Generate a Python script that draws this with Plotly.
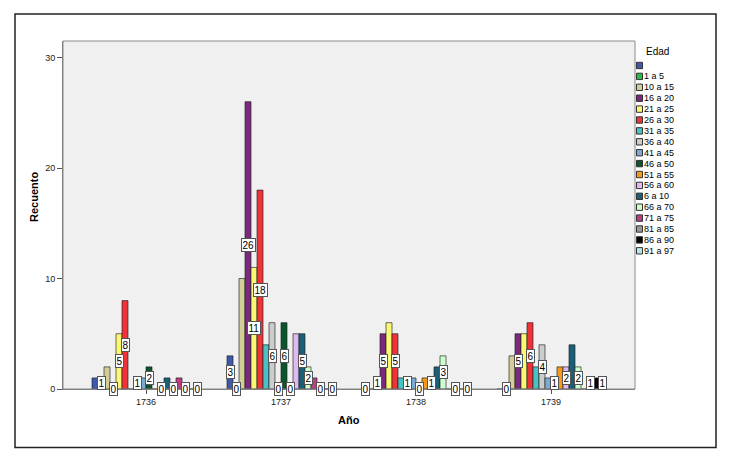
import plotly.graph_objects as go

years = ["1736", "1737", "1738", "1739"]
age_groups = ["", "1 a 5", "10 a 15", "16 a 20", "21 a 25", "26 a 30", "31 a 35",
              "36 a 40", "41 a 45", "46 a 50", "51 a 55", "56 a 60", "6 a 10",
              "66 a 70", "71 a 75", "81 a 85", "86 a 90", "91 a 97"]
counts_1736 = [1, 1, 2, 0, 5, 8, 0, 1, 1, 2, 0, 0, 1, 0, 1, 0, 0, 0]
counts_1737 = [3, 0, 10, 26, 11, 18, 4, 6, 0, 6, 0, 5, 5, 2, 1, 0, 0, 0]
counts_1738 = [0, 0, 1, 5, 6, 5, 1, 1, 1, 0, 1, 1, 2, 3, 0, 0, 0, 0]
counts_1739 = [0, 0, 3, 5, 5, 6, 2, 4, 1, 1, 2, 2, 4, 2, 0, 1, 1, 1]
# which age groups carry a visible value label (as in the original)
labelled_1736 = ["1 a 5", "16 a 20", "21 a 25", "26 a 30", "36 a 40", "46 a 50",
                 "56 a 60", "66 a 70", "81 a 85", "91 a 97"]
labelled_1737 = ["", "1 a 5", "16 a 20", "21 a 25", "26 a 30", "36 a 40", "41 a 45",
                 "46 a 50", "51 a 55", "6 a 10", "66 a 70", "81 a 85", "91 a 97"]
labelled_1738 = ["", "10 a 15", "16 a 20", "26 a 30", "36 a 40", "46 a 50",
                 "56 a 60", "66 a 70", "81 a 85", "91 a 97"]
labelled_1739 = ["1 a 5", "16 a 20", "26 a 30", "36 a 40", "46 a 50", "56 a 60",
                 "66 a 70", "81 a 85", "91 a 97"]

colors = ["#3E58AC", "#2EB848", "#D3CE97", "#7C287D", "#FBF873", "#EF3338",
          "#48C2C5", "#CCCCCC", "#7AAAD5", "#0A562C", "#F8981D", "#DDBAF1",
          "#1A5F76", "#CCFFCC", "#BB3F7F", "#999999", "#000000", "#B6E7E8"]

all_counts = [counts_1736, counts_1737, counts_1738, counts_1739]
all_labelled = [labelled_1736, labelled_1737, labelled_1738, labelled_1739]

FONT = "Arial, Liberation Sans, sans-serif"
W, H = 731, 464
L, R, T, B = 63, 635, 41, 389  # plot area in pixels


def px(xp):
    return (xp - L) / (R - L)


def py(yp):
    return (B - yp) / (B - T)


fig = go.Figure()
n = len(age_groups)
for i, (cat, col) in enumerate(zip(age_groups, colors)):
    fig.add_trace(go.Bar(
        x=years, y=[c[i] for c in all_counts], name=cat if cat else " ",
        marker=dict(color=col, line=dict(color="rgba(30,30,30,0.65)", width=1)),
        showlegend=False))

annotations = []
bargap = 0.2
bw = (1 - bargap) / n
for g, (cnts, labs) in enumerate(zip(all_counts, all_labelled)):
    for i, cat in enumerate(age_groups):
        if cat in labs:
            v = cnts[i]
            annotations.append(dict(
                x=g - (1 - bargap) / 2 + (i + 0.5) * bw, y=v / 2, xref="x", yref="y",
                xanchor="center", yanchor="middle",
                text=str(v), showarrow=False, bgcolor="white",
                bordercolor="#555555", borderwidth=1, borderpad=0.5,
                font=dict(family=FONT, size=10, color="black")))

# axis titles
annotations.append(dict(x=px(34), y=py(197), xref="paper", yref="paper", text="<b>Recuento</b>",
                        xanchor="center", yanchor="middle",
                        textangle=-90, showarrow=False, font=dict(family=FONT, size=11, color="black")))
annotations.append(dict(x=px(349), y=py(420), xref="paper", yref="paper", text="<b>Año</b>",
                        xanchor="center", yanchor="middle",
                        showarrow=False, font=dict(family=FONT, size=11, color="black")))

# manual legend
annotations.append(dict(x=px(643.5), y=py(51.5), xref="paper", yref="paper", text="Edad",
                        xanchor="left", yanchor="middle", showarrow=False,
                        font=dict(family=FONT, size=10, color="black")))
shapes = []
for k, (cat, col) in enumerate(zip(age_groups, colors)):
    yc = 65.5 + 10.9 * k
    shapes.append(dict(type="rect", xref="paper", yref="paper",
                       x0=px(636.5), x1=px(642.5), y0=py(yc + 3.2), y1=py(yc - 3.2),
                       fillcolor=col, line=dict(color="#333333", width=1)))
    if cat:
        annotations.append(dict(x=px(642), y=py(yc), xref="paper", yref="paper", text=cat,
                                xanchor="left", yanchor="middle", showarrow=False,
                                font=dict(family=FONT, size=9, color="black")))

# plot-area border and outer frame
shapes.append(dict(type="rect", xref="paper", yref="paper", x0=0, x1=1, y0=0, y1=1,
                   line=dict(color="#8a8a8a", width=1), layer="above"))
shapes.append(dict(type="rect", xref="paper", yref="paper",
                   x0=px(15), x1=px(716), y0=py(447.5), y1=py(14),
                   line=dict(color="#222222", width=1.5)))

fig.update_layout(
    width=W, height=H, barmode="group", bargap=bargap, bargroupgap=0,
    margin=dict(l=L, r=W - R, t=T, b=H - B),
    paper_bgcolor="white", plot_bgcolor="#F0F0F0",
    font=dict(family=FONT, size=9, color="#222222"),
    annotations=annotations, shapes=shapes, showlegend=False,
    xaxis=dict(type="category", range=[-(83 / 135), 3 + 84 / 135], showgrid=False,
               ticks="outside", ticklen=4, tickcolor="#555555", showline=True,
               linecolor="#777777", tickfont=dict(size=9, color="#222222")),
    yaxis=dict(range=[0, (B - T) / 110.5 * 10], tickvals=[0, 10, 20, 30], showgrid=False,
               zeroline=False, ticks="outside", ticklen=5, tickcolor="#555555",
               showline=True, linecolor="#777777", tickfont=dict(size=9, color="#222222")),
)

fig.write_html("out.html", config={"displayModeBar": False},
               post_script="document.body.style.margin='0';document.body.style.overflow='hidden';")
